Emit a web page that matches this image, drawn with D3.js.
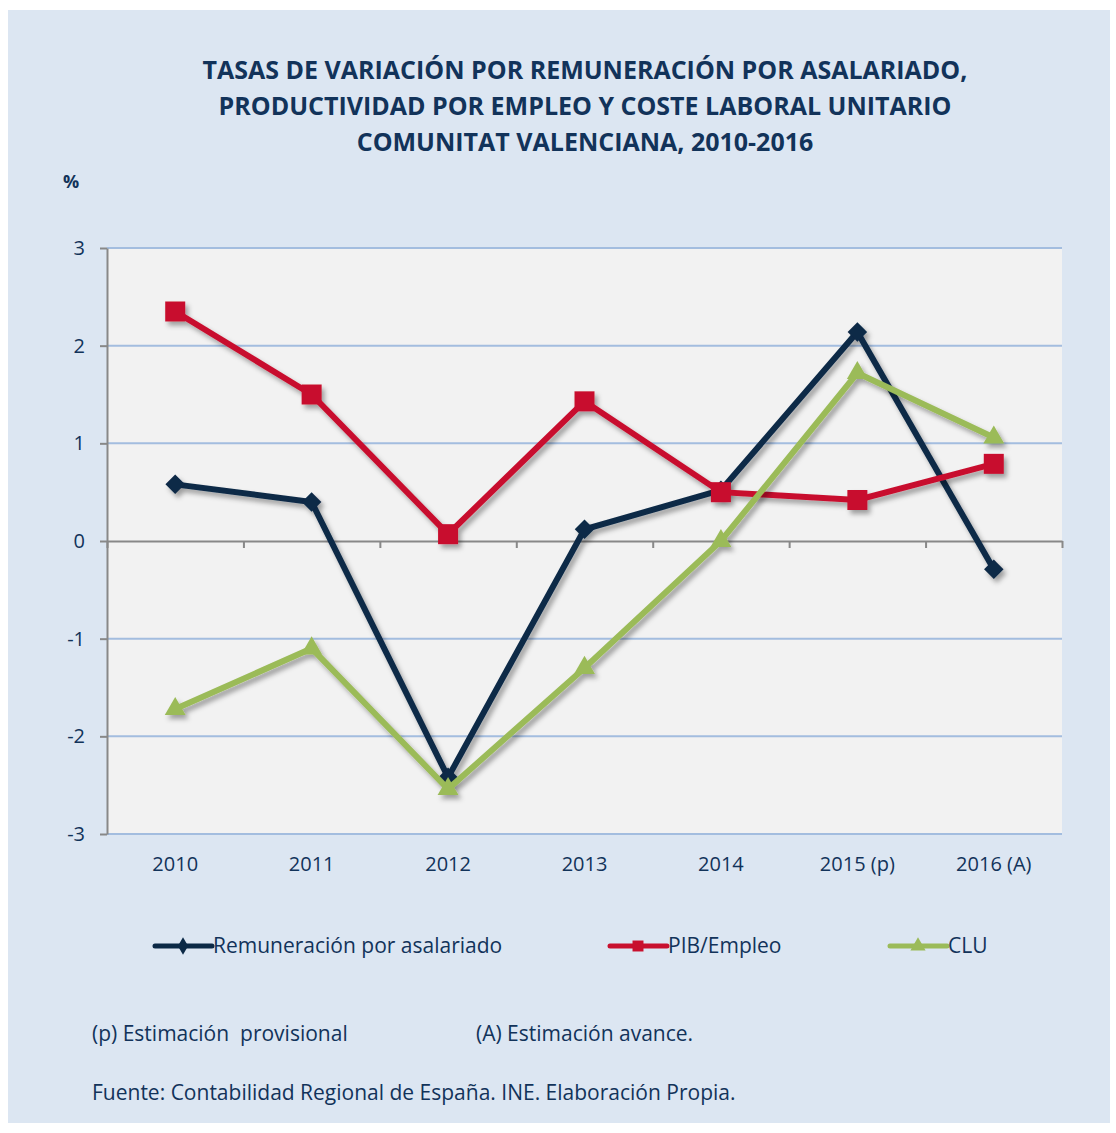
<!DOCTYPE html>

<head>
    <meta charset="utf-8">
    <script src="https://d3js.org/d3.v7.min.js"></script>
    <style>
        body { margin: 0; background: #fff; }
        text { font-family: "Open Sans", sans-serif; fill: #12335a; }
    </style>
</head>

<body>
    <script>
        ////////////// Data //////////////

        const years = ["2010", "2011", "2012", "2013", "2014", "2015 (p)", "2016 (A)"]
        const remuneracion = [0.58, 0.40, -2.42, 0.12, 0.52, 2.14, -0.29]
        const pibEmpleo = [2.35, 1.50, 0.07, 1.43, 0.50, 0.42, 0.79]
        const clu = [-1.72, -1.10, -2.54, -1.30, 0.00, 1.72, 1.06]
        const yTicks = [-3, -2, -1, 0, 1, 2, 3]
        const seriesNames = ["Remuneración por asalariado", "PIB/Empleo", "CLU"]
        const titleLines = [
            "TASAS DE VARIACIÓN POR REMUNERACIÓN POR ASALARIADO,",
            "PRODUCTIVIDAD POR EMPLEO Y COSTE LABORAL UNITARIO",
            "COMUNITAT VALENCIANA, 2010-2016"
        ]
        const notes = ["(p) Estimación  provisional", "(A) Estimación avance."]
        const source = "Fuente: Contabilidad Regional de España. INE. Elaboración Propia."

        ////////////// Create the SVG //////////////

        let width = 1116,
            height = 1133

        let svg = d3.select("body")
            .append("svg")
            .attr("width", width)
            .attr("height", height)

        //soft shadow under the lines, like the Excel one
        svg.append("defs").append("filter")
            .attr("id", "shadow")
            .attr("x", "-10%").attr("y", "-10%")
            .attr("width", "130%").attr("height", "130%")
            .append("feDropShadow")
            .attr("dx", 3).attr("dy", 4)
            .attr("stdDeviation", 2.5)
            .attr("flood-color", "#000")
            .attr("flood-opacity", 0.35)

        //background panel
        svg.append("rect")
            .attr("x", 8).attr("y", 10)
            .attr("width", 1102).attr("height", 1113)
            .attr("fill", "#dce6f2")

        ////////////// Title //////////////

        svg.selectAll(".title")
            .data(titleLines)
            .enter().append("text")
            .attr("class", "title")
            .attr("x", 585)
            .attr("y", (d, i) => 79 + i * 36)
            .attr("text-anchor", "middle")
            .style("font-size", "25px")
            .style("font-weight", "bold")
            .text(d => d)

        svg.append("text")
            .attr("x", 63).attr("y", 188)
            .style("font-size", "18px")
            .style("font-weight", "bold")
            .text("%")

        ////////////// Scales //////////////

        const plot = { left: 107, right: 1062, top: 248, bottom: 834 }

        const x_scale = d3.scaleBand()
            .domain(years)
            .range([plot.left, plot.right])

        //category boundaries, for the tick marks
        const edge_scale = d3.scaleLinear()
            .domain([0, years.length])
            .range([plot.left, plot.right])

        const y_scale = d3.scaleLinear()
            .domain([-3, 3])
            .range([plot.bottom, plot.top])

        const cx = (d, i) => x_scale(years[i]) + x_scale.bandwidth() / 2

        ////////////// Plot area + grid //////////////

        svg.append("rect")
            .attr("x", plot.left).attr("y", plot.top)
            .attr("width", plot.right - plot.left)
            .attr("height", plot.bottom - plot.top)
            .attr("fill", "#f2f2f2")

        svg.append("g")
            .selectAll("line")
            .data(yTicks.filter(d => d !== 0))
            .enter().append("line")
            .attr("x1", plot.left).attr("x2", plot.right)
            .attr("y1", d => y_scale(d)).attr("y2", d => y_scale(d))
            .attr("stroke", "#a3bddf")
            .attr("stroke-width", 2)

        //category axis crossing at zero
        let xAxis = svg.append("g")
            .attr("transform", `translate(0,${y_scale(0)})`)
            .call(d3.axisBottom(edge_scale)
                .tickValues(d3.range(years.length + 1))
                .tickSize(7)
                .tickSizeOuter(0)
                .tickFormat(""))
        xAxis.selectAll("line, path").attr("stroke", "#888").attr("stroke-width", 2)

        //category labels under the plot
        let xLabels = svg.append("g")
            .attr("transform", `translate(0,${plot.bottom})`)
            .call(d3.axisBottom(x_scale).tickSize(0).tickPadding(23))
        xLabels.select(".domain").remove()
        xLabels.selectAll("text")
            .style("font-family", "'Open Sans', sans-serif")
            .style("font-size", "20px")
            .attr("fill", "#12335a")

        let yAxis = svg.append("g")
            .attr("transform", `translate(${plot.left},0)`)
            .call(d3.axisLeft(y_scale)
                .tickValues(yTicks)
                .tickSize(7)
                .tickSizeOuter(0)
                .tickPadding(15)
                .tickFormat(d => String(d)))
        yAxis.selectAll("line, path").attr("stroke", "#888").attr("stroke-width", 2)
        yAxis.selectAll("text")
            .style("font-family", "'Open Sans', sans-serif")
            .style("font-size", "20px")
            .attr("fill", "#12335a")

        ////////////// Series //////////////

        const series = [
            { name: seriesNames[0], values: remuneracion, color: "#0b2946", symbol: "diamond" },
            { name: seriesNames[1], values: pibEmpleo, color: "#c8102e", symbol: "square" },
            { name: seriesNames[2], values: clu, color: "#9bbb59", symbol: "triangle" }
        ]

        const markerPath = {
            diamond: d3.symbol().type(d3.symbolSquare).size(190)(),
            square: d3.symbol().type(d3.symbolSquare).size(400)(),
            triangle: d3.symbol().type(d3.symbolTriangle).size(190)()
        }
        const markerRotate = { diamond: 45, square: 0, triangle: 0 }

        const line = d3.line()
            .x(cx)
            .y(d => y_scale(d))

        series.forEach(s => {
            let g = svg.append("g")
                .attr("class", "series")
                .attr("filter", "url(#shadow)")

            g.append("path")
                .datum(s.values)
                .attr("d", line)
                .attr("fill", "none")
                .attr("stroke", s.color)
                .attr("stroke-width", 6)
                .attr("stroke-linejoin", "miter")

            g.selectAll(".marker")
                .data(s.values)
                .enter().append("path")
                .attr("class", "marker")
                .attr("d", markerPath[s.symbol])
                .attr("transform", (d, i) => `translate(${cx(d, i)},${y_scale(d)}) rotate(${markerRotate[s.symbol]})`)
                .attr("fill", s.color)
        })

        ////////////// Legend //////////////

        const legendX = [155, 610, 890]
        const legendMarker = {
            diamond: d3.symbol().type(d3.symbolDiamond).size(90)(),
            square: d3.symbol().type(d3.symbolSquare).size(120)(),
            triangle: d3.symbol().type(d3.symbolTriangle).size(100)()
        }

        let legend = svg.append("g").attr("transform", "translate(0,946)")

        series.forEach((s, i) => {
            let item = legend.append("g").attr("transform", `translate(${legendX[i]},0)`)
            item.append("line")
                .attr("x1", 0).attr("x2", 57)
                .attr("stroke", s.color)
                .attr("stroke-width", 5)
                .attr("stroke-linecap", "round")
            item.append("path")
                .attr("d", legendMarker[s.symbol])
                .attr("transform", "translate(28,0)")
                .attr("fill", s.color)
            item.append("text")
                .attr("x", 58)
                .attr("dy", "0.35em")
                .style("font-size", "21px")
                .text(s.name)
        })

        ////////////// Notes //////////////

        svg.selectAll(".note")
            .data(notes)
            .enter().append("text")
            .attr("class", "note")
            .attr("x", (d, i) => i === 0 ? 92 : 476)
            .attr("y", 1041)
            .style("font-size", "21px")
            .style("white-space", "pre")
            .text(d => d)

        svg.append("text")
            .attr("x", 92).attr("y", 1100)
            .style("font-size", "21px")
            .text(source)
    </script>
</body>
